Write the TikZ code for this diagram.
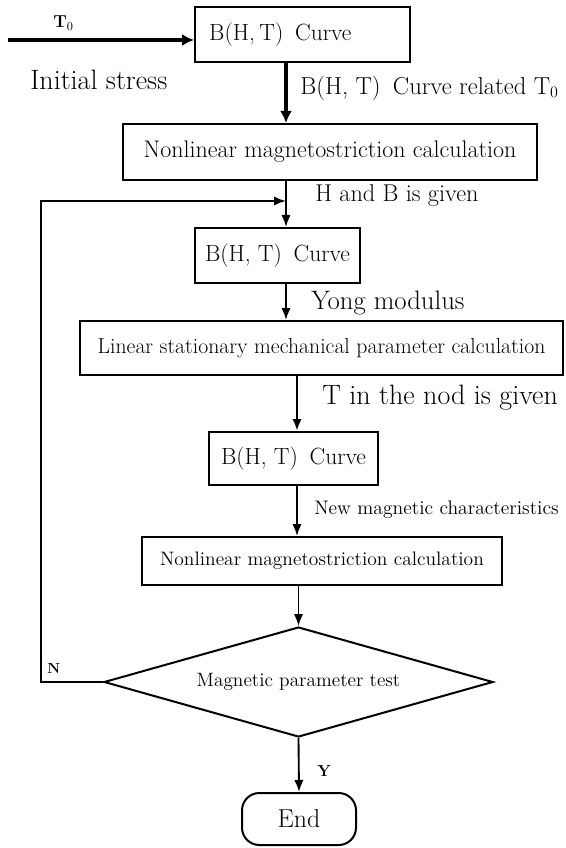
\documentclass[tikz,border=0pt]{standalone}
\usepackage{tikz}
\usetikzlibrary{arrows.meta,shapes.geometric}
\newcommand{\setfs}[1]{\fontsize{#1}{#1}\selectfont}
\tikzset{box/.style={draw,line width=1.5pt,inner sep=0pt},
	arr/.style={line width=1.4pt,-{Latex[length=9pt,width=7pt]}},
	thickarr/.style={line width=2.8pt,-{Latex[length=9pt,width=9pt]}},
	lbl/.style={anchor=west,inner sep=0pt},
	testbox/.style={diamond,aspect=3.54,draw,line width=1.5pt,inner sep=0pt},
	endbox/.style={draw,line width=1.5pt,rounded corners=13pt,inner sep=0pt}}

\begin{document}
\begin{tikzpicture}[x=0.75pt,y=-0.75pt]
\useasboundingbox (0,0) rectangle (566,848);
\coordinate (ax) at (286,0);
\coordinate (bx) at (297,0);
\coordinate (in) at (8,40);
\coordinate (fb) at (41,201);
\node [box,minimum width=161.25pt,minimum height=41.25pt,text width=140pt,align=left] (b1) at (302.5,34.5) {\setfs{17.6}B(H, T)\enspace Curve};
\node [box,minimum width=310.5pt,minimum height=42pt] (b2) at (330,152) {\setfs{18}Nonlinear magnetostriction calculation};
\node [box,minimum width=123.75pt,minimum height=41.25pt] (b3) at (277.5,255.5) {\setfs{17.6}B(H, T)\enspace Curve};
\node [box,minimum width=362.25pt,minimum height=40.5pt] (b4) at (321.5,348) {\setfs{16.3}Linear stationary mechanical parameter calculation};
\node [box,minimum width=126.75pt,minimum height=39.75pt] (b5) at (293.5,458.5) {\setfs{17.6}B(H, T)\enspace Curve};
\node [box,minimum width=270pt,minimum height=36pt] (b6) at (322,561) {\setfs{14.6}Nonlinear magnetostriction calculation};
\node [testbox,minimum width=291.75pt,minimum height=82.5pt] (test) at (298.5,682) {\setfs{14.5}Magnetic parameter test};
\node [endbox,minimum width=85.5pt,minimum height=39pt] (end) at (299,819) {\setfs{19.4}End};
\node [lbl] (t0) at (53,23) {\setfs{13}\bfseries T$_0$};
\node [lbl] (init) at (30,80) {\setfs{21}Initial stress};
\node [lbl] (lrel) at (300,88) {\setfs{18.4}B(H, T)\enspace Curve related T$_0$};
\node [lbl] (lhb) at (315,196) {\setfs{18.2}H and B is given};
\node [lbl] (lyong) at (311,303) {\setfs{20}Yong modulus};
\node [lbl] (lnod) at (322,398) {\setfs{21}T in the nod is given};
\node [lbl] (lnew) at (314,510) {\setfs{14.7}New magnetic characteristics};
\node [lbl] (lN) at (47,668) {\setfs{11}\bfseries N};
\node [lbl] (lY) at (317,771) {\setfs{12}\bfseries Y};
\draw [thickarr] (in) -- (in -| b1.west);
\draw [thickarr] (b1.south -| ax) -- (b2.north -| ax);
\draw [arr] (b2.south -| ax) -- (b3.north -| ax);
\draw [arr] (b3.south -| ax) -- (b4.north -| ax);
\draw [arr,line width=2pt] (b4.south -| bx) -- (b5.north -| bx);
\draw [arr] (b5.south -| bx) -- (b6.north -| bx);
\draw [arr] (b6.south -| test.north) -- (test.north);
\draw [arr] (test.south) -- (end.north);
\draw [arr,line width=1.5pt] (test.west) -| (fb) -- (fb -| ax);
\end{tikzpicture}
\end{document}
